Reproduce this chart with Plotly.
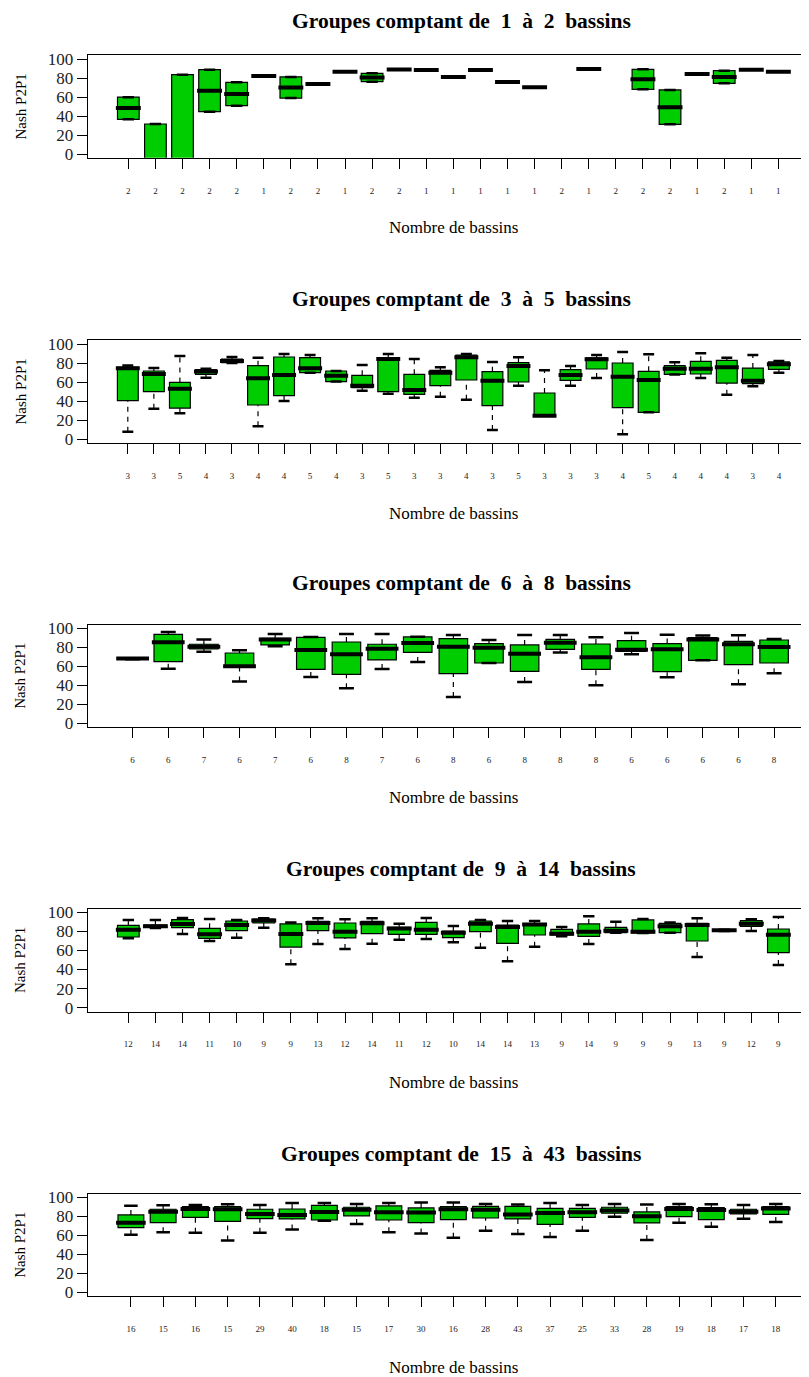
import plotly.graph_objects as go

FONT = "Liberation Serif"
GREEN = "#00CD00"
W, H = 809, 1377

# ---------------- data ----------------
p1_labels = ["2","2","2","2","2","1","2","2","1","2","2","1","1","1","1","1","2","1","2","2","2","1","2","1","1"]
p1_low = [36.5, -60, -100, 44.6, 50.9, 82.0, 58.9, 73.7, 86.7, 76.1, 89.0, 88.4, 81.0, 88.4, 75.8, 70.2, -40, 89.5, -70, 68.1, 31.2, 84.2, 74.4, 88.8, 86.7]
p1_q1 = [36.5, -60, -100, 44.6, 50.9, 82.0, 58.9, 73.7, 86.7, 76.1, 89.0, 88.4, 81.0, 88.4, 75.8, 70.2, -40, 89.5, -70, 68.1, 31.2, 84.2, 74.4, 88.8, 86.7]
p1_med = [48.3, -14.2, -8.3, 66.7, 63.2, 82.0, 70.0, 73.7, 86.7, 80.5, 89.0, 88.4, 81.0, 88.4, 75.8, 70.2, -25, 89.5, -45, 78.6, 49.3, 84.2, 81.0, 88.8, 86.7]
p1_q3 = [59.8, 31.6, 83.5, 88.8, 75.5, 82.0, 81.1, 73.7, 86.7, 84.9, 89.0, 88.4, 81.0, 88.4, 75.8, 70.2, -10, 89.5, -20, 89.1, 67.4, 84.2, 87.7, 88.8, 86.7]
p1_up = [59.8, 31.6, 83.5, 88.8, 75.5, 82.0, 81.1, 73.7, 86.7, 84.9, 89.0, 88.4, 81.0, 88.4, 75.8, 70.2, -10, 89.5, -20, 89.1, 67.4, 84.2, 87.7, 88.8, 86.7]

p2_labels = ["3","3","5","4","3","4","4","5","4","3","5","3","3","4","3","5","3","3","3","4","5","4","4","4","3","4"]
p2_low = [7.7, 31.9, 27.0, 64.6, 80.0, 13.3, 40.0, 69.8, 60.4, 50.9, 47.7, 43.5, 44.6, 41.4, 9.5, 56.1, 24.6, 56.1, 64.2, 4.9, 28.1, 68.0, 64.2, 46.7, 55.4, 69.8]
p2_q1 = [40.4, 49.8, 32.6, 68.0, 80.5, 35.8, 45.6, 69.8, 60.4, 54.0, 49.8, 47.0, 56.1, 62.1, 35.1, 60.0, 24.6, 61.8, 73.7, 33.0, 28.1, 68.1, 68.4, 58.9, 58.2, 73.3]
p2_med = [74.4, 68.4, 53.0, 71.0, 82.0, 63.9, 67.4, 74.4, 66.7, 56.1, 84.2, 51.6, 69.8, 86.0, 61.4, 76.8, 24.6, 67.4, 83.9, 65.6, 62.1, 74.0, 74.0, 75.4, 61.4, 78.6]
p2_q3 = [75.5, 71.6, 59.6, 73.0, 84.0, 77.2, 86.3, 85.6, 71.6, 67.0, 84.9, 68.1, 72.3, 88.4, 70.9, 80.4, 48.4, 73.0, 85.3, 80.0, 71.2, 77.2, 81.8, 82.8, 74.7, 81.1]
p2_up = [77.5, 74.7, 87.4, 74.0, 86.3, 85.6, 89.5, 88.4, 71.6, 77.9, 89.5, 84.2, 75.4, 89.5, 81.1, 86.0, 72.3, 76.8, 88.4, 91.6, 89.1, 80.7, 90.2, 85.6, 88.4, 82.1]

p3_labels = ["6","6","7","6","7","6","8","7","6","8","6","8","8","8","6","6","6","6","8"]
p3_low = [67.5, 57.5, 75.4, 43.9, 81.0, 48.8, 36.8, 57.2, 64.6, 27.7, 63.5, 43.5, 74.4, 40.0, 72.6, 48.4, 66.3, 41.1, 52.6]
p3_q1 = [67.8, 64.9, 78.2, 59.6, 82.5, 56.8, 51.6, 66.7, 74.7, 52.3, 63.5, 54.7, 77.9, 56.8, 75.8, 54.4, 66.3, 61.8, 63.5]
p3_med = [68.1, 85.3, 80.7, 60.0, 88.1, 77.2, 72.6, 78.6, 84.6, 80.7, 79.6, 73.3, 84.9, 69.5, 77.5, 77.9, 88.1, 83.2, 80.4]
p3_q3 = [68.3, 93.7, 83.2, 74.0, 89.5, 90.5, 85.6, 83.2, 90.9, 89.1, 83.9, 82.5, 88.4, 83.5, 87.0, 83.9, 90.2, 86.3, 87.7]
p3_up = [68.5, 96.1, 88.1, 76.8, 94.0, 90.9, 94.0, 94.0, 91.2, 93.0, 87.7, 93.0, 93.0, 90.5, 95.1, 93.3, 92.3, 92.6, 88.8]

p4_labels = ["12","14","14","11","10","9","9","13","12","14","11","12","10","14","14","13","9","14","9","9","9","13","9","12","9"]
p4_low = [72.7, 83.5, 77.3, 69.9, 73.4, 83.9, 45.5, 66.8, 61.5, 67.1, 71.3, 72.0, 68.5, 62.9, 48.6, 64.0, 74.8, 66.8, 78.7, 78.3, 78.7, 53.1, 80.3, 80.4, 44.8]
p4_q1 = [74.1, 84.2, 83.9, 72.7, 80.8, 88.8, 63.6, 80.8, 73.1, 77.6, 76.9, 76.9, 73.4, 79.7, 67.5, 76.2, 76.2, 74.8, 78.7, 78.3, 78.7, 69.9, 80.6, 85.3, 57.7]
p4_med = [81.8, 85.3, 87.8, 76.9, 86.7, 91.3, 77.3, 88.8, 79.7, 88.5, 82.9, 81.8, 78.7, 88.1, 84.6, 87.1, 77.6, 79.7, 80.8, 79.7, 85.3, 86.7, 81.1, 88.1, 76.6]
p4_q3 = [86.4, 86.5, 92.3, 83.2, 90.9, 93.0, 87.8, 90.6, 88.8, 90.6, 84.3, 89.5, 80.4, 90.9, 86.7, 88.1, 82.2, 87.8, 84.3, 92.0, 88.5, 88.5, 81.5, 91.3, 82.5]
p4_up = [92.0, 92.0, 94.0, 93.0, 92.0, 93.7, 89.2, 93.7, 92.7, 93.7, 88.1, 94.0, 85.7, 92.0, 90.9, 90.9, 84.6, 95.8, 90.2, 93.0, 89.2, 93.7, 81.8, 92.7, 95.1]

p5_labels = ["16","15","16","15","29","40","18","15","17","30","16","28","43","37","25","33","28","19","18","17","18"]
p5_low = [60.7, 63.2, 62.8, 54.4, 62.8, 66.0, 75.4, 71.9, 63.2, 61.8, 57.5, 64.9, 61.4, 58.2, 64.9, 79.6, 55.1, 73.3, 69.1, 77.5, 74.0]
p5_q1 = [68.1, 73.3, 78.9, 74.7, 77.5, 77.2, 76.1, 80.4, 76.1, 73.3, 76.5, 78.2, 77.2, 71.6, 78.9, 83.2, 73.0, 79.6, 76.5, 82.5, 82.1]
p5_med = [73.3, 84.9, 87.7, 87.4, 82.5, 81.4, 84.6, 87.0, 84.2, 83.9, 87.4, 87.0, 81.8, 83.5, 84.2, 86.0, 80.0, 87.7, 86.7, 84.9, 88.1]
p5_q3 = [81.4, 87.4, 90.2, 90.2, 87.4, 87.7, 91.6, 89.5, 90.9, 88.8, 90.2, 90.5, 90.5, 88.4, 88.4, 89.5, 84.6, 90.2, 89.1, 87.4, 90.2]
p5_up = [91.2, 91.6, 91.9, 92.6, 91.9, 94.0, 94.0, 93.0, 94.0, 94.4, 94.4, 93.0, 92.3, 94.0, 91.9, 93.0, 92.3, 93.0, 92.6, 91.9, 93.0]

titles = ["Groupes comptant de  1  à  2  bassins",
          "Groupes comptant de  3  à  5  bassins",
          "Groupes comptant de  6  à  8  bassins",
          "Groupes comptant de  9  à  14  bassins",
          "Groupes comptant de  15  à  43  bassins"]
y_ticks = [0, 20, 40, 60, 80, 100]
x_title = "Nombre de bassins"
y_title = "Nash P2P1"

panels = [
    (p1_labels, p1_low, p1_q1, p1_med, p1_q3, p1_up),
    (p2_labels, p2_low, p2_q1, p2_med, p2_q3, p2_up),
    (p3_labels, p3_low, p3_q1, p3_med, p3_q3, p3_up),
    (p4_labels, p4_low, p4_q1, p4_med, p4_q3, p4_up),
    (p5_labels, p5_low, p5_q1, p5_med, p5_q3, p5_up),
]

# ---------------- layout geometry (page pixels) ----------------
OFF = 8.0                 # default body margin of the page
FW, FH = W - OFF, H - OFF  # figure size so that it fits the window exactly
PLOT_LEFT = 87.7
PLOT_FULL_W = 731.3
tops = [55.2, 340.2, 624.5, 908.5, 1193.5]
bots = [157.8, 442.8, 727.1, 1011.5, 1296.1]
title_y = [21, 299, 583, 869, 1154]
xtitle_y = [228, 513, 797, 1082, 1367]
TITLE_X = 461
XTITLE_X = 453
YTITLE_X = 20


def py(p):
    return 1 - (p - OFF) / FH


def px(p):
    return (p - OFF) / FW


fig = go.Figure()
layout = dict(
    width=FW, height=FH, margin=dict(l=0, r=0, t=0, b=0, pad=0, autoexpand=False),
    paper_bgcolor="white", plot_bgcolor="white", showlegend=False,
    font=dict(family=FONT, color="black"), template="none",
)
annotations = []

for k, (labels, low, q1, med, q3, up) in enumerate(panels):
    idx = k + 1
    xa = "x" if idx == 1 else f"x{idx}"
    ya = "y" if idx == 1 else f"y{idx}"
    n = len(labels)
    xs = list(range(1, n + 1))

    fig.add_trace(go.Box(
        x=xs, q1=q1, median=med, q3=q3, lowerfence=q1, upperfence=q3,
        width=0.8, whiskerwidth=0, boxpoints=False,
        fillcolor=GREEN, line=dict(color="black", width=1.2),
        xaxis=xa, yaxis=ya, hoverinfo="skip", showlegend=False,
    ))

    wx, wy = [], []
    sx, sy = [], []
    mx, my = [], []
    for i in range(n):
        x = xs[i]
        wx += [x, x, None, x, x, None]
        wy += [low[i], q1[i], None, q3[i], up[i], None]
        sx += [x - 0.21, x + 0.21, None, x - 0.21, x + 0.21, None]
        sy += [low[i], low[i], None, up[i], up[i], None]
        mx += [x - 0.46, x + 0.46, None]
        my += [med[i], med[i], None]
    fig.add_trace(go.Scatter(x=wx, y=wy, mode="lines", xaxis=xa, yaxis=ya,
                             line=dict(color="black", width=1.2, dash="5px,5px"),
                             hoverinfo="skip", showlegend=False))
    fig.add_trace(go.Scatter(x=sx, y=sy, mode="lines", xaxis=xa, yaxis=ya,
                             line=dict(color="black", width=2.5),
                             hoverinfo="skip", showlegend=False))
    fig.add_trace(go.Scatter(x=mx, y=my, mode="lines", xaxis=xa, yaxis=ya,
                             line=dict(color="black", width=4),
                             hoverinfo="skip", showlegend=False))

    L = 0.5 - 0.04 * n
    Rf = n + 0.5 + 0.04 * n
    ppu = PLOT_FULL_W / (Rf - L)
    R = L + (W - PLOT_LEFT) / ppu

    layout["xaxis" if idx == 1 else f"xaxis{idx}"] = dict(
        domain=[px(PLOT_LEFT), 1], range=[L, R], anchor=ya, automargin=False,
        tickmode="array", tickvals=xs, ticktext=labels,
        ticks="outside", ticklen=10, tickwidth=1.2, tickcolor="black",
        tickfont=dict(family=FONT, size=9, color="#222222"),
        ticklabelstandoff=14,
        showline=True, linecolor="black", linewidth=1.3, mirror=True,
        showgrid=False, zeroline=False, fixedrange=True,
    )
    layout["yaxis" if idx == 1 else f"yaxis{idx}"] = dict(
        domain=[py(bots[k]), py(tops[k])], range=[-4, 104], anchor=xa, automargin=False,
        tickmode="array", tickvals=y_ticks, ticktext=[str(v) for v in y_ticks],
        ticks="outside", ticklen=10, tickwidth=1.2, tickcolor="black",
        tickfont=dict(family=FONT, size=17, color="#222222"),
        showline=True, linecolor="black", linewidth=1.3, mirror=False,
        showgrid=False, zeroline=False, fixedrange=True,
    )

    annotations.append(dict(
        text="<b>" + titles[k] + "</b>", xref="paper", yref="paper",
        x=px(TITLE_X), y=py(title_y[k]), xanchor="center", yanchor="middle",
        showarrow=False, font=dict(family=FONT, size=21.5, color="black")))
    annotations.append(dict(
        text=x_title, xref="paper", yref="paper",
        x=px(XTITLE_X), y=py(xtitle_y[k]), xanchor="center", yanchor="middle",
        showarrow=False, font=dict(family=FONT, size=17, color="black")))
    annotations.append(dict(
        text=y_title, xref="paper", yref="paper", textangle=-90,
        x=px(YTITLE_X), y=py((tops[k] + bots[k]) / 2), xanchor="center", yanchor="middle",
        showarrow=False, font=dict(family=FONT, size=15, color="black")))

layout["annotations"] = annotations
fig.update_layout(**layout)
fig.write_html("out.html")
